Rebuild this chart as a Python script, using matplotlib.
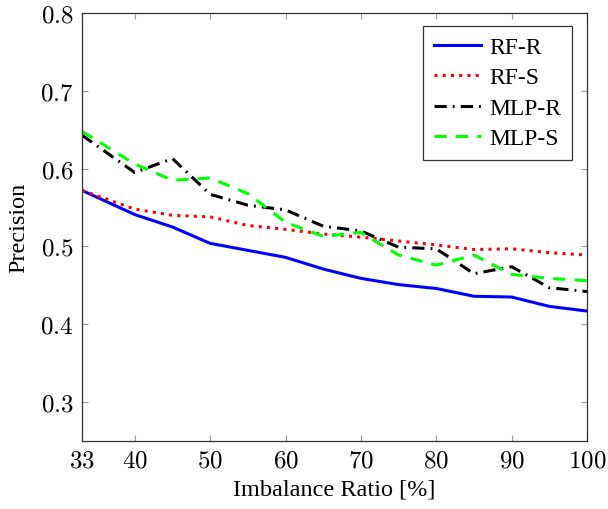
import matplotlib
matplotlib.use("Agg")
import matplotlib.pyplot as plt
from matplotlib.ticker import FuncFormatter

plt.rcParams['font.family'] = ['Liberation Serif', 'DejaVu Serif']
plt.rcParams['mathtext.fontset'] = 'cm'

# imbalance ratio [%]
ratio = [33, 40, 45, 50, 55, 60, 65, 70, 75, 80, 85, 90, 95, 100]

rf_r = [0.572, 0.541, 0.525, 0.504, 0.495, 0.486, 0.471, 0.459, 0.451, 0.446, 0.436, 0.435, 0.423, 0.417]
rf_s = [0.572, 0.548, 0.540, 0.538, 0.527, 0.522, 0.516, 0.512, 0.507, 0.502, 0.496, 0.497, 0.492, 0.489]
mlp_r = [0.643, 0.595, 0.613, 0.567, 0.553, 0.547, 0.526, 0.520, 0.499, 0.497, 0.465, 0.474, 0.447, 0.442]
mlp_s = [0.648, 0.606, 0.585, 0.588, 0.568, 0.531, 0.513, 0.518, 0.489, 0.476, 0.489, 0.464, 0.459, 0.456]

xticks = [33, 40, 50, 60, 70, 80, 90, 100]
yticks = [0.3, 0.4, 0.5, 0.6, 0.7, 0.8]

fig = plt.figure(figsize=(6.08, 5.10), dpi=100)
ax = fig.add_axes([82 / 608, 1 - 442 / 510, 505 / 608, 428 / 510])

ax.plot(ratio, rf_r, color='#0000ff', lw=2.2, ls='-', label='RF-R')
ax.plot(ratio, rf_s, color='#ff0000', lw=2.2, ls=(0, (1, 1.7)), label='RF-S')
ax.plot(ratio, mlp_r, color='black', lw=2.2, ls=(0, (4, 2, 0.6, 2)), label='MLP-R')
ax.plot(ratio, mlp_s, color='#00ff00', lw=2.2, ls=(0, (4, 3)), label='MLP-S')

ax.set_xlim(33, 100)
ax.set_ylim(0.25, 0.8)
ax.set_xticks(xticks)
ax.set_yticks(yticks)
ax.xaxis.set_major_formatter(FuncFormatter(lambda v, p: '$%d$' % round(v)))
ax.yaxis.set_major_formatter(FuncFormatter(lambda v, p: '$%.1f$' % v))
ax.tick_params(direction='in', length=4, width=0.8, color='#999999',
               top=True, right=True, labelsize=18, pad=6)
for s in ax.spines.values():
    s.set_linewidth(0.9)
    s.set_color('#333333')

ax.set_xlabel('Imbalance Ratio [%]', fontsize=17.5, labelpad=5)
ax.set_ylabel('Precision', fontsize=17.5, labelpad=8)

leg = ax.legend(loc='upper right', bbox_to_anchor=(0.970, 0.970), borderaxespad=0,
                fontsize=17, fancybox=False, framealpha=1, edgecolor='#333333',
                handlelength=2.0, handletextpad=0.35, labelspacing=0.38,
                borderpad=0.45)
leg.get_frame().set_linewidth(0.9)

plt.savefig('out.png', dpi=100)
